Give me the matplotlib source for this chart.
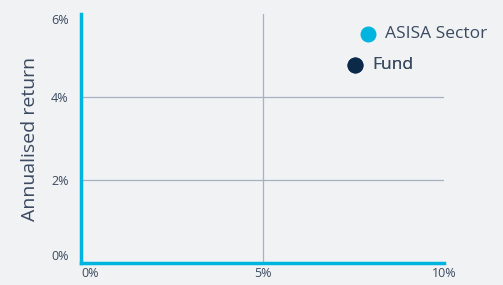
import matplotlib
matplotlib.use("Agg")
import matplotlib.pyplot as plt

# Risk vs return chart - no points fall inside the plotted window
series_names = ["ASISA Sector", "Fund"]
series_risk = [[], []]
series_return = [[], []]
series_colors = ["#00b4e0", "#0b2a4a"]

x_ticks = [0, 5, 10]
x_labels = ["0%", "5%", "10%"]
y_ticks = [0, 2, 4, 6]
y_labels = ["0%", "2%", "4%", "6%"]

bg = "#f0f2f4"
text_col = "#3a4a60"
grid_col = "#a8b2be"
axis_col = "#00b4e0"

plt.rcParams["font.family"] = ["Open Sans", "DejaVu Sans"]

fig = plt.figure(figsize=(5.03, 2.85), dpi=100, facecolor=bg)
ax = fig.add_axes([0.161, 0.077, 0.722, 0.874], facecolor=bg)

handles = []
for name, xs, ys, col in zip(series_names, series_risk, series_return, series_colors):
    h = ax.scatter(xs, ys, s=110, color=col, label=name)
    handles.append(h)

ax.set_xlim(0, 10)
ax.set_ylim(0, 6)

ax.set_xticks(x_ticks)
ax.set_xticklabels(x_labels)
ax.set_yticks(y_ticks)
ax.set_yticklabels(y_labels)
ax.tick_params(length=0, colors=text_col, labelsize=9)
ax.tick_params(axis="x", pad=3)
ax.tick_params(axis="y", pad=9)

# tweak tick label placement like the original
xl = ax.get_xticklabels()
xl[0].set_ha("left")
xl[-1].set_ha("center")
yl = ax.get_yticklabels()
yl[0].set_va("bottom")
yl[-1].set_va("top")

ax.grid(True, color=grid_col, linewidth=0.9)
ax.set_axisbelow(True)
for ln in ax.get_ygridlines()[-1:]:
    ln.set_visible(False)
for ln in ax.get_xgridlines()[-1:]:
    ln.set_visible(False)

for s in ["top", "right"]:
    ax.spines[s].set_visible(False)
for s in ["left", "bottom"]:
    ax.spines[s].set_color(axis_col)
    ax.spines[s].set_linewidth(2.5)

ax.set_ylabel("Annualised return", fontsize=14, color=text_col)
ax.yaxis.set_label_coords(-0.115, 0.5)

# legend entries placed one by one, as in the reference
pos = [(487 / 503, 1 - 34 / 285), (413 / 503, 1 - 65 / 285)]
for h, p in zip(handles, pos):
    lg = ax.legend([h], [h.get_label()], loc="center right", bbox_to_anchor=p,
                   bbox_transform=fig.transFigure, frameon=False, fontsize=12.5,
                   handletextpad=0.5, borderaxespad=0, borderpad=0,
                   labelcolor=text_col, handlelength=0.9)
    fig.add_artist(lg)

fig.savefig("out.png", dpi=100, facecolor=bg)
